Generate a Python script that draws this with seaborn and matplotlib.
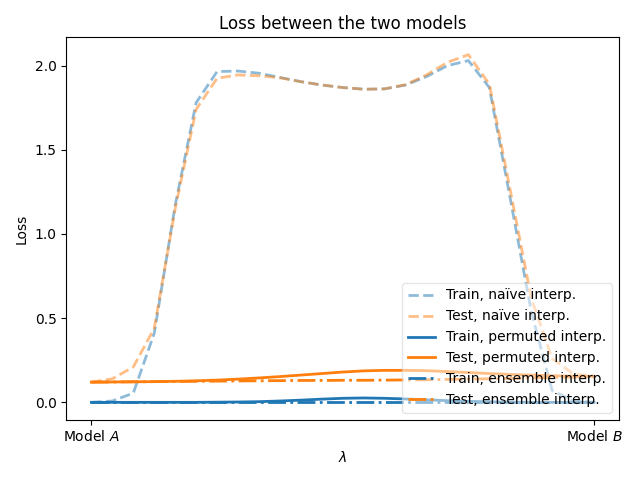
import numpy as np
import pandas as pd
import matplotlib
matplotlib.use('Agg')
import matplotlib.pyplot as plt
import seaborn as sns

# interpolation points (25 steps between the two models)
lambdas = np.linspace(0, 1, 25)

train_naive = [0.0, 0.008, 0.055, 0.41, 1.17, 1.78, 1.965, 1.968, 1.955, 1.93,
               1.905, 1.885, 1.87, 1.86, 1.862, 1.885, 1.935, 2.0, 2.03, 1.87,
               1.21, 0.54, 0.07, 0.01, 0.0]
test_naive = [0.12, 0.14, 0.21, 0.44, 1.15, 1.74, 1.925, 1.945, 1.94, 1.928,
              1.905, 1.885, 1.87, 1.86, 1.862, 1.887, 1.945, 2.02, 2.065, 1.89,
              1.26, 0.62, 0.26, 0.17, 0.155]
train_perm = [0.0, 0.0, 0.0, 0.0, 0.0, 0.0, 0.001, 0.002, 0.004, 0.008,
              0.013, 0.019, 0.024, 0.026, 0.024, 0.02, 0.015, 0.01, 0.006, 0.003,
              0.001, 0.0, 0.0, 0.0, 0.0]
test_perm = [0.12, 0.121, 0.122, 0.123, 0.125, 0.128, 0.132, 0.138, 0.145, 0.153,
             0.162, 0.171, 0.18, 0.187, 0.19, 0.19, 0.188, 0.183, 0.177, 0.171,
             0.166, 0.162, 0.158, 0.156, 0.155]
train_ens = [0.0] * 25
test_ens = [0.12, 0.121, 0.122, 0.123, 0.124, 0.125, 0.126, 0.127, 0.128, 0.129,
            0.13, 0.13, 0.131, 0.131, 0.132, 0.133, 0.134, 0.136, 0.138, 0.14,
            0.142, 0.145, 0.148, 0.15, 0.152]

fig, ax = plt.subplots(figsize=(6.4, 4.8), dpi=100)

sns.lineplot(x=lambdas, y=train_naive, ax=ax, color='tab:blue', linewidth=2,
             linestyle='dashed', alpha=0.5, label='Train, naïve interp.')
sns.lineplot(x=lambdas, y=test_naive, ax=ax, color='tab:orange', linewidth=2,
             linestyle='dashed', alpha=0.5, label='Test, naïve interp.')
sns.lineplot(x=lambdas, y=train_perm, ax=ax, color='tab:blue', linewidth=2,
             linestyle='solid', label='Train, permuted interp.')
sns.lineplot(x=lambdas, y=test_perm, ax=ax, color='tab:orange', linewidth=2,
             linestyle='solid', label='Test, permuted interp.')
sns.lineplot(x=lambdas, y=train_ens, ax=ax, color='tab:blue', linewidth=2,
             linestyle='dashdot', label='Train, ensemble interp.')
sns.lineplot(x=lambdas, y=test_ens, ax=ax, color='tab:orange', linewidth=2,
             linestyle='dashdot', label='Test, ensemble interp.')

ax.set_xticks([0, 1])
ax.set_xticklabels(['Model $A$', 'Model $B$'])
ax.set_xlabel('$\\lambda$')
ax.set_ylabel('Loss')
ax.set_title('Loss between the two models')
ax.legend(loc='lower right', framealpha=0.5)

plt.tight_layout()
plt.savefig('out.png', dpi=100)
